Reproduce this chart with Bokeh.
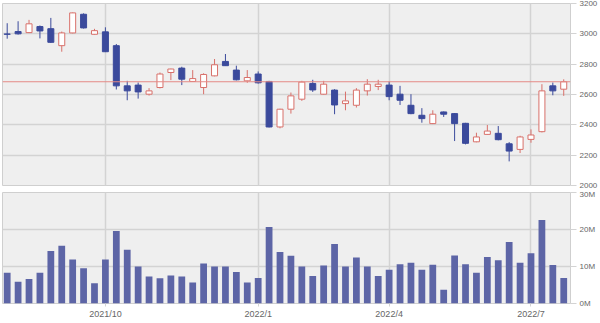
from bokeh.plotting import figure
from bokeh.layouts import column
from bokeh.models import ColumnDataSource, LinearAxis, Range1d, FixedTicker, Span, NumeralTickFormatter, CustomJSTickFormatter
from bokeh.embed import file_html
from bokeh.resources import INLINE
import numpy as np

# Weekly OHLC
opens  = [2999, 3015, 3008, 3048, 3034, 2922, 3006, 3129, 2997, 3013,
          2922, 2657, 2662, 2602, 2646, 2745, 2774, 2686, 2646, 2723,
          2818, 2761, 2690, 2735, 2686, 2386, 2503, 2569, 2673, 2602,
          2629, 2540, 2529, 2624, 2653, 2662, 2602, 2529, 2463, 2408,
          2485, 2474, 2410, 2288, 2337, 2344, 2275, 2238, 2304, 2355,
          2657, 2635]
highs  = [3070, 3083, 3092, 3055, 3105, 3015, 3140, 3135, 3033, 3043,
          2933, 2690, 2679, 2642, 2745, 2770, 2783, 2761, 2740, 2834,
          2867, 2790, 2761, 2752, 2690, 2506, 2613, 2690, 2697, 2690,
          2635, 2619, 2642, 2701, 2697, 2686, 2657, 2602, 2510, 2496,
          2488, 2478, 2413, 2348, 2399, 2392, 2286, 2328, 2370, 2668,
          2679, 2700]
lows   = [2968, 2995, 3005, 2970, 2940, 2882, 3003, 3035, 2995, 2880,
          2633, 2562, 2573, 2593, 2640, 2695, 2662, 2684, 2602, 2720,
          2788, 2693, 2677, 2672, 2383, 2377, 2474, 2558, 2617, 2600,
          2470, 2496, 2514, 2593, 2629, 2562, 2531, 2470, 2414, 2405,
          2452, 2293, 2271, 2285, 2335, 2298, 2159, 2214, 2282, 2350,
          2595, 2591]
closes = [2997, 3000, 3066, 3019, 2944, 3006, 3138, 3039, 3021, 2882,
          2657, 2624, 2617, 2624, 2735, 2768, 2701, 2705, 2732, 2796,
          2790, 2697, 2712, 2677, 2386, 2503, 2591, 2682, 2630, 2668,
          2531, 2558, 2629, 2668, 2668, 2586, 2562, 2474, 2441, 2470,
          2470, 2408, 2278, 2320, 2359, 2302, 2227, 2320, 2333, 2624,
          2624, 2684]
# Weekly volume in millions
volumes = [8.3, 5.9, 6.6, 8.3, 14.2, 15.6, 11.9, 9.5, 5.5, 11.9,
           19.6, 14.5, 10.0, 7.3, 6.8, 7.6, 7.3, 5.7, 10.8, 10.0,
           10.0, 8.5, 5.7, 6.9, 20.7, 13.9, 12.9, 10.0, 7.4, 10.3,
           16.1, 10.0, 12.4, 10.0, 7.4, 9.1, 10.6, 11.0, 9.1, 10.5,
           3.7, 13.0, 10.6, 8.3, 12.6, 11.7, 16.6, 11.0, 13.6, 22.6,
           10.4, 6.9]
tick_idx = [9, 23, 35, 48]
tick_labels = ["2021/10", "2022/1", "2022/4", "2022/7"]
price_ticks = [2000, 2200, 2400, 2600, 2800, 3000, 3200]
vol_ticks = [0, 10, 20, 30]

UP_LINE = "#d8706a"
DOWN = "#3b4a9c"
BG = "#efefef"
GRID = "#d3d3d3"
FONT = "Liberation Sans"

n = len(opens)
x = np.arange(n)
o = np.array(opens); c = np.array(closes)
up = c > o
src_up = ColumnDataSource(dict(x=x[up], top=c[up], bottom=o[up], h=np.array(highs)[up], l=np.array(lows)[up]))
src_dn = ColumnDataSource(dict(x=x[~up], top=o[~up], bottom=c[~up], h=np.array(highs)[~up], l=np.array(lows)[~up]))

xr = Range1d(-0.43, 51.62)

def style(p):
    p.background_fill_color = BG
    p.border_fill_color = "white"
    p.outline_line_color = "#cfcfcf"
    p.xgrid.ticker = FixedTicker(ticks=tick_idx)
    p.xgrid.grid_line_color = GRID
    p.ygrid.grid_line_color = GRID
    p.ygrid.grid_line_width = 1.5
    p.xgrid.grid_line_width = 1.5

p = figure(width=600, height=189, x_range=xr, y_range=Range1d(2000, 3200),
           output_backend="svg", toolbar_location=None,
           min_border_left=2, min_border_right=27, min_border_top=3, min_border_bottom=4,
           x_axis_location=None, y_axis_location=None)
style(p)
ax = LinearAxis(ticker=FixedTicker(ticks=price_ticks))
ax.axis_line_color = None
ax.major_tick_line_color = GRID
ax.major_tick_out = 6
ax.major_tick_in = 0
ax.minor_tick_line_color = None
ax.major_label_standoff = 3
ax.major_label_text_font = FONT
ax.major_label_text_font_size = "8px"
ax.major_label_text_color = "#666666"
p.add_layout(ax, "right")
p.ygrid.ticker = FixedTicker(ticks=price_ticks)

p.segment(x0="x", y0="h", x1="x", y1="l", source=src_up, line_color=UP_LINE, line_width=1)
p.vbar(x="x", top="top", bottom="bottom", width=0.55, source=src_up, fill_color="white", line_color=UP_LINE, line_width=1)
p.segment(x0="x", y0="h", x1="x", y1="l", source=src_dn, line_color=DOWN, line_width=1)
p.vbar(x="x", top="top", bottom="bottom", width=0.55, source=src_dn, fill_color=DOWN, line_color=DOWN, line_width=1)
p.add_layout(Span(location=closes[-1], dimension="width", line_color="#e58a86", line_width=1))

v = figure(width=600, height=134, x_range=xr, y_range=Range1d(0, 30),
           output_backend="svg", toolbar_location=None,
           min_border_left=2, min_border_right=27, min_border_top=3, min_border_bottom=20,
           x_axis_location=None, y_axis_location=None)
style(v)
v.ygrid.ticker = FixedTicker(ticks=vol_ticks)
v.vbar(x=x, top=volumes, bottom=0, width=0.62, fill_color="#5d65a6", line_color=None)
vy = LinearAxis(ticker=FixedTicker(ticks=vol_ticks))
vy.axis_line_color = None
vy.major_tick_line_color = GRID
vy.major_tick_out = 6
vy.major_tick_in = 0
vy.minor_tick_line_color = None
vy.major_label_standoff = 3
vy.major_label_text_font = FONT
vy.major_label_text_font_size = "8px"
vy.major_label_text_color = "#666666"
vy.major_label_overrides = {t: f"{t}M" for t in vol_ticks}
v.add_layout(vy, "right")
vx = LinearAxis(ticker=FixedTicker(ticks=tick_idx))
vx.major_label_overrides = {i: s for i, s in zip(tick_idx, tick_labels)}
vx.axis_line_color = None
vx.major_tick_line_color = GRID
vx.major_tick_out = 3
vx.major_tick_in = 0
vx.minor_tick_line_color = None
vx.major_label_standoff = 2
vx.major_label_text_font = FONT
vx.major_label_text_font_size = "9px"
vx.major_label_text_color = "#666666"
v.add_layout(vx, "below")

lay = column(p, v, spacing=0)
open("out.html", "w").write(file_html(lay, INLINE))
